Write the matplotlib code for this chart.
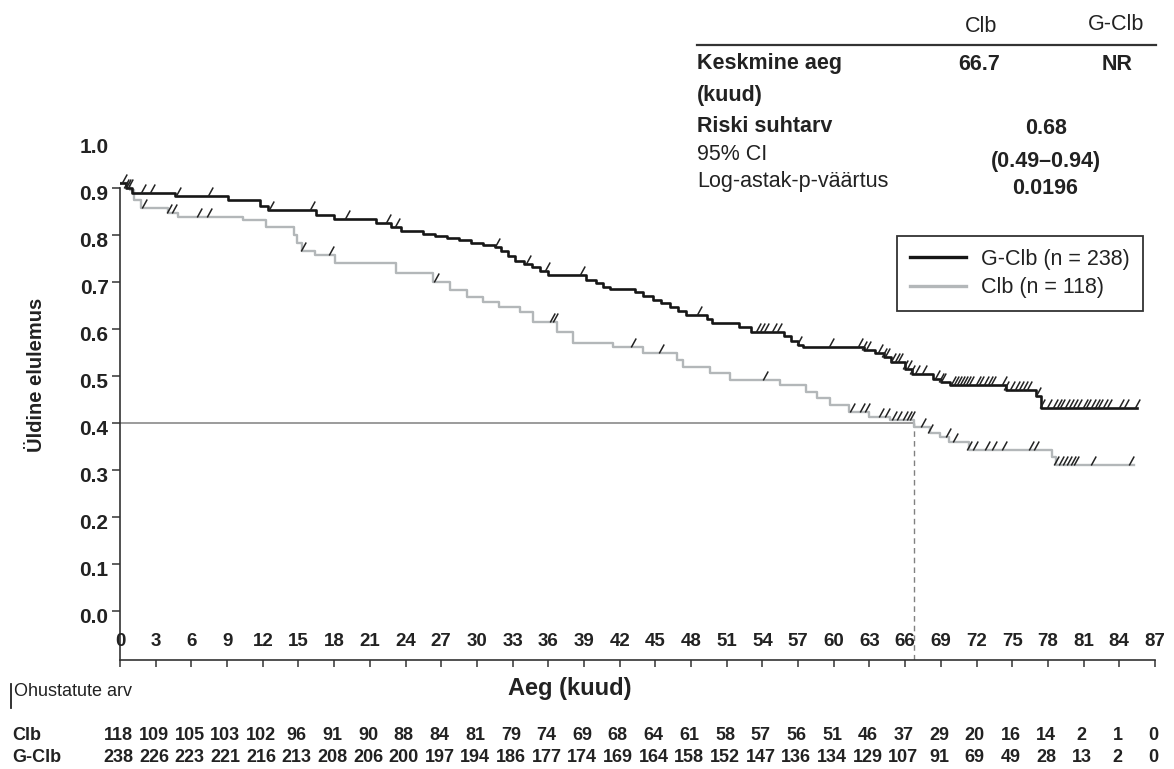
import matplotlib.pyplot as plt
import numpy as np
from matplotlib.lines import Line2D
from matplotlib.path import Path
from matplotlib.transforms import blended_transform_factory

plt.rcParams["font.family"] = ["Liberation Sans", "DejaVu Sans"]

# Kaplan-Meier steps: month of each drop and the survival level after it
gclb_time = [0, 0.5, 1.0, 4.6, 9.1, 11.8, 12.4, 16.5, 18.0, 21.5, 22.8, 23.6,
             25.5, 26.5, 27.5, 28.5, 29.5, 30.5, 31.5, 32.0, 32.6, 33.2, 34.0,
             34.6, 35.3, 36.0, 39.2, 40.0, 40.6, 41.2, 43.3, 44.0, 44.8, 45.5,
             46.2, 46.9, 47.6, 49.3, 49.8, 52.0, 53.0, 55.8, 56.4, 57.0, 57.4,
             62.5, 63.5, 64.2, 64.8, 66.0, 66.6, 68.3, 69.0, 69.8, 74.5, 77.0,
             77.4, 85.5]
gclb_surv = [0.911, 0.900, 0.889, 0.882, 0.874, 0.862, 0.853, 0.843, 0.834,
             0.826, 0.818, 0.808, 0.803, 0.798, 0.793, 0.789, 0.784, 0.779,
             0.775, 0.765, 0.755, 0.745, 0.738, 0.731, 0.723, 0.715, 0.704,
             0.697, 0.690, 0.685, 0.678, 0.670, 0.662, 0.655, 0.647, 0.639,
             0.630, 0.622, 0.613, 0.604, 0.594, 0.585, 0.575, 0.566, 0.562,
             0.555, 0.549, 0.540, 0.530, 0.515, 0.504, 0.494, 0.488, 0.481,
             0.470, 0.457, 0.432, 0.432]

clb_time = [0, 0.8, 1.2, 1.8, 4.0, 4.9, 10.3, 12.3, 14.6, 14.9, 15.3, 16.4,
            18.1, 23.2, 26.3, 27.7, 29.2, 30.5, 31.9, 33.6, 34.7, 36.7, 38.1,
            41.4, 44.0, 46.8, 47.3, 49.6, 51.3, 55.5, 57.7, 58.6, 59.7, 61.3,
            63.0, 64.7, 66.7, 68.1, 68.9, 69.7, 71.4, 78.3, 78.7, 85.2]
clb_surv = [0.911, 0.895, 0.875, 0.857, 0.846, 0.839, 0.832, 0.818, 0.800,
            0.783, 0.765, 0.757, 0.740, 0.720, 0.701, 0.683, 0.669, 0.658,
            0.647, 0.637, 0.616, 0.594, 0.570, 0.562, 0.548, 0.534, 0.520,
            0.506, 0.491, 0.481, 0.467, 0.453, 0.438, 0.424, 0.413, 0.406,
            0.392, 0.378, 0.371, 0.360, 0.343, 0.327, 0.311, 0.311]

# censoring times (months)
gclb_censor = [0.3, 0.5, 0.7, 0.8, 1.9, 2.7, 4.9, 7.6, 12.7, 16.1, 19.1, 22.5,
               23.3, 31.7, 34.3, 35.9, 38.8, 48.7, 53.6, 54.0, 54.3, 55.0,
               55.4, 57.1, 59.8, 62.2, 62.5, 62.9, 63.9, 64.2, 64.5, 65.0,
               65.3, 65.6, 66.0, 66.3, 66.6, 67.0, 67.6, 68.7, 69.0, 69.2,
               70.0, 70.3, 70.5, 70.8, 71.0, 71.3, 71.5, 72.1, 72.4, 72.8,
               73.1, 73.4, 74.3, 74.5, 75.0, 75.4, 75.7, 76.1, 76.4, 77.2,
               77.5, 78.1, 78.6, 78.9, 79.2, 79.6, 79.9, 80.3, 80.6, 81.1,
               81.4, 81.8, 82.1, 82.4, 82.8, 83.1, 84.1, 84.6, 85.5]
clb_censor = [2.0, 4.1, 4.5, 6.6, 7.5, 15.4, 17.7, 26.6, 36.3, 36.6, 43.1,
              45.5, 54.2, 61.5, 62.4, 62.8, 64.0, 64.5, 65.1, 65.5, 66.0,
              66.3, 66.6, 67.5, 68.1, 69.6, 70.2, 71.4, 71.9, 72.9, 73.5,
              74.3, 76.6, 77.0, 78.7, 79.1, 79.4, 79.8, 80.1, 80.4, 81.8, 85.0]

month_ticks = np.arange(0, 88, 3)
surv_ticks = np.round(np.arange(0, 1.01, 0.1), 1)

risk_clb = [118, 109, 105, 103, 102, 96, 91, 90, 88, 84, 81, 79, 74, 69, 68,
            64, 61, 58, 57, 56, 51, 46, 37, 29, 20, 16, 14, 2, 1, 0]
risk_gclb = [238, 226, 223, 221, 216, 213, 208, 206, 200, 197, 194, 186, 177,
             174, 169, 164, 158, 152, 147, 136, 134, 129, 107, 91, 69, 49, 28,
             13, 2, 0]

median_clb = 66.7
median_level = 0.4

W, H = 1174, 769
INK = "#222222"
BLACK = "#161616"
GREY = "#b3b7b9"


def level_at(times, surv, t):
    idx = np.searchsorted(times, t, side="right") - 1
    return np.asarray(surv)[idx]


def fx(px):
    return px / W


def fy(py):
    return 1 - py / H


fig = plt.figure(figsize=(W / 100, H / 100), dpi=100)
ax = fig.add_axes([fx(120), fy(660), (1155 - 120) / W, (660 - 141) / H])
ax.set_xlim(0, 87)
ax.set_ylim(-0.104, 1.0)

ax.step(gclb_time, gclb_surv, where="post", color=BLACK, lw=1.9, zorder=3)
ax.step(clb_time, clb_surv, where="post", color=GREY, lw=1.7, zorder=2)

tick_mark = Path([(-0.25, 0.0), (0.3, 1.0)], [Path.MOVETO, Path.LINETO])
for cens, times, surv in [(gclb_censor, gclb_time, gclb_surv),
                          (clb_censor, clb_time, clb_surv)]:
    ax.plot(cens, level_at(times, surv, cens), ls="none", marker=tick_mark,
            ms=13, mfc="none", mec="#222222", mew=1.1, zorder=4)

# median reference lines
ax.plot([0, median_clb], [median_level, median_level], color="#808080", lw=1.1, zorder=1)
ax.plot([median_clb, median_clb], [-0.104, median_level], color="#808080",
        lw=1.0, ls=(0, (4, 3)), zorder=1)

for side in ["top", "right"]:
    ax.spines[side].set_visible(False)
for side in ["left", "bottom"]:
    ax.spines[side].set_linewidth(1.2)
    ax.spines[side].set_color("#333333")
ax.spines["left"].set_bounds(-0.104, 0.9)

ax.set_xticks(month_ticks)
ax.set_xticklabels([])
ax.tick_params(axis="x", direction="out", length=5, width=1.1, color="#333333")
ax.set_yticks(surv_ticks[:-1])
ax.set_yticklabels([])
ax.tick_params(axis="y", direction="out", length=6, width=1.1, color="#333333")

for m in month_ticks:
    ax.text(m, -0.064, str(m), ha="center", va="center", fontsize=13.5,
            fontweight="bold", color=INK)
for v in surv_ticks:
    ax.text(-0.011, v - 0.013, f"{v:.1f}", transform=ax.get_yaxis_transform(),
            ha="right", va="center", fontsize=15, fontweight="bold", color=INK)

fig.text(fx(37), fy(375), "Üldine elulemus", rotation=90, ha="center",
         va="center", fontsize=14.5, fontweight="bold", color=INK)
fig.text(fx(570), fy(688), "Aeg (kuud)", ha="center", va="center",
         fontsize=17, fontweight="bold", color=INK)

# numbers at risk
fig.text(fx(14), fy(692), "Ohustatute arv", ha="left", va="center",
         fontsize=13, color=INK)
fig.add_artist(Line2D([fx(11), fx(11)], [fy(684), fy(708)],
                      transform=fig.transFigure, color=INK, lw=1.3))
row_tf = blended_transform_factory(ax.transData, fig.transFigure)
for label, counts, py in [("Clb", risk_clb, 735), ("G-Clb", risk_gclb, 757)]:
    fig.text(fx(12), fy(py), label, ha="left", va="center", fontsize=13,
             fontweight="bold", color=INK)
    for m, n in zip(month_ticks, counts):
        ax.text(m - 0.15, fy(py), str(n), transform=row_tf, ha="center",
                va="center", fontsize=13, fontweight="bold", color=INK,
                clip_on=False)

# summary table
fig.text(fx(981), fy(26), "Clb", ha="center", va="center", fontsize=15.5, color=INK)
fig.text(fx(1116), fy(25), "G-Clb", ha="center", va="center", fontsize=15.5, color=INK)
fig.add_artist(Line2D([fx(697), fx(1156)], [fy(45), fy(45)],
                      transform=fig.transFigure, color="#333333", lw=1.6))
left_rows = [("Keskmine aeg", 64, "bold"), ("(kuud)", 95, "bold"),
             ("Riski suhtarv", 126, "bold"), ("95% CI", 155, "normal"),
             ("Log-astak-p-väärtus", 181, "normal")]
for txt, py, weight in left_rows:
    fig.text(fx(697), fy(py), txt, ha="left", va="center", fontsize=15.5,
             fontweight=weight, color=INK)
value_cells = [("66.7", 979, 64), ("NR", 1117, 64), ("0.68", 1046, 129),
               ("(0.49–0.94)", 1046, 162), ("0.0196", 1045, 189)]
for txt, px, py in value_cells:
    fig.text(fx(px), fy(py), txt, ha="center", va="center", fontsize=15.5,
             fontweight="bold", color=INK)

handles = [Line2D([], [], color=BLACK, lw=2.4), Line2D([], [], color=GREY, lw=2.4)]
leg = fig.legend(handles, ["G-Clb (n = 238)", "Clb (n = 118)"], loc="upper left",
                 bbox_to_anchor=(fx(897), fy(236)), bbox_transform=fig.transFigure,
                 fontsize=15.5, handlelength=2.6, handletextpad=0.7,
                 borderpad=0.6, labelspacing=0.35, fancybox=False,
                 framealpha=1, edgecolor="#333333", borderaxespad=0)
leg.get_frame().set_linewidth(1.3)
for t in leg.get_texts():
    t.set_color(INK)

fig.savefig("out.png", dpi=100)
